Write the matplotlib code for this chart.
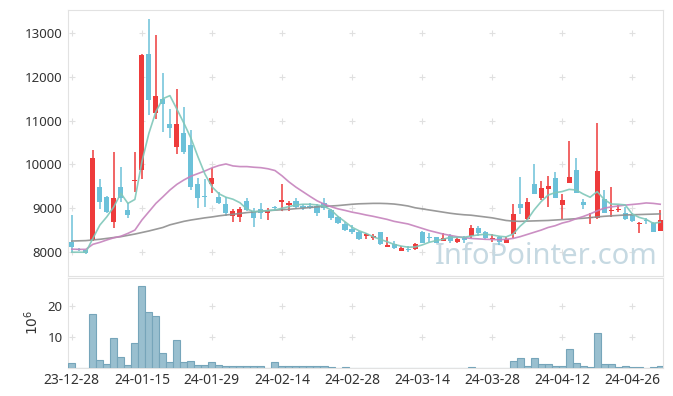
import matplotlib
matplotlib.use("Agg")
import matplotlib.pyplot as plt
import numpy as np

dates = ["23-12-28","24-01-02","24-01-03","24-01-04","24-01-05","24-01-08","24-01-09","24-01-10","24-01-11","24-01-12",
         "24-01-15","24-01-16","24-01-17","24-01-18","24-01-19","24-01-22","24-01-23","24-01-24","24-01-25","24-01-26",
         "24-01-29","24-01-30","24-01-31","24-02-01","24-02-02","24-02-05","24-02-06","24-02-07","24-02-08","24-02-13",
         "24-02-14","24-02-15","24-02-16","24-02-19","24-02-20","24-02-21","24-02-22","24-02-23","24-02-26","24-02-27",
         "24-02-28","24-02-29","24-03-04","24-03-05","24-03-06","24-03-07","24-03-08","24-03-11","24-03-12","24-03-13",
         "24-03-14","24-03-15","24-03-18","24-03-19","24-03-20","24-03-21","24-03-22","24-03-25","24-03-26","24-03-27",
         "24-03-28","24-03-29","24-04-01","24-04-02","24-04-03","24-04-04","24-04-05","24-04-08","24-04-09","24-04-11",
         "24-04-12","24-04-15","24-04-16","24-04-17","24-04-18","24-04-19","24-04-22","24-04-23","24-04-24","24-04-25",
         "24-04-26","24-04-29","24-04-30","24-05-02","24-05-03"]

open_ = [8235,8060,8050,8275,9477,9250,8690,9490,8960,9610,
         9870,12520,11180,11485,10920,10390,10710,10440,9550,9280,
         9545,9250,9090,8820,8805,9165,8935,8980,8885,9010,
         9150,9075,9165,9050,9055,9055,9110,8950,8790,8630,
         8520,8465,8375,8325,8465,8125,8190,8025,8065,8070,
         8465,8350,8335,8255,8365,8235,8300,8365,8540,8450,
         8300,8335,8210,8405,9090,8755,9550,9240,9440,9680,
         9075,9580,9870,9135,8780,8785,9200,8935,8950,8900,
         8845,8630,8715,8670,8485]
high = [8840,8100,8050,10330,9660,9270,10275,9935,9125,10275,
        12510,13320,12955,12080,11260,11720,11320,10785,9680,9660,
        9925,9380,9250,8975,9030,9225,9000,9125,9000,9050,
        9550,9160,9230,9100,9110,9085,9240,8990,8830,8680,
        8610,8490,8430,8420,8465,8340,8240,8130,8130,8200,
        8480,8440,8345,8440,8420,8340,8360,8615,8600,8480,
        8400,8370,8350,9095,9705,9225,10000,9630,9740,9835,
        9315,10540,10150,9210,8900,10940,9415,9490,9070,9020,
        8880,8690,8770,8680,8960]
low = [7990,8030,7960,8260,8975,8900,8540,9150,8770,9380,
       9660,11130,11030,10745,10595,10230,10235,9415,8995,9020,
       9355,9100,8820,8690,8690,8940,8565,8760,8740,8960,
       8945,8945,8990,8950,8990,8830,8960,8730,8640,8480,
       8400,8280,8300,8270,8160,8120,8060,8020,7990,8050,
       8200,8230,8200,8240,8200,8210,8210,8310,8360,8300,
       8230,8160,8200,8330,8870,8720,9320,9185,9020,9240,
       8745,9580,9340,8980,8650,8760,8880,8810,8920,8740,
       8690,8440,8630,8460,8470]
close = [8120,8050,7970,10140,9150,8920,9225,9240,8845,9640,
         12500,11470,11560,11385,10840,10920,10290,9490,9225,9255,
         9680,9125,8900,8935,8975,8960,8785,8885,8960,8995,
         9185,9125,9035,9000,9000,8900,9010,8770,8670,8510,
         8450,8300,8395,8375,8180,8140,8090,8085,8050,8175,
         8210,8320,8210,8325,8255,8305,8285,8555,8425,8325,
         8315,8235,8300,8870,9000,9135,9325,9455,9505,9240,
         9185,9710,9340,9075,8800,9850,8900,8955,8970,8755,
         8710,8670,8705,8465,8730]
volume = [1.4,0,0,17.5,2.6,1.2,9.7,3.5,0.9,8.0,
          26.7,18.2,16.8,4.8,1.8,9.0,1.8,2.2,0.9,0.9,
          1.8,0.9,0.4,0.4,0.4,0.4,0.4,0.4,0,1.8,
          0.4,0.4,0.4,0.4,0.4,0.4,0.4,0.3,0,0.3,
          0,0,0,0,0,0,0,0,0,0,
          0,0,0,0,0,0,0,0.3,0,0,
          0,0,0,2.0,3.0,0.65,3.0,1.3,1.3,0.65,
          0.65,5.9,1.6,0.65,0.3,11.4,1.3,1.3,0.3,0.65,
          0.3,0.3,0,0.3,0.65]
ma5 = [7995,7995,7995,8310,8615,8805,9035,9340,9110,9200,
       10060,10710,11205,11500,11570,11260,10940,10600,10175,9780,
       9490,9330,9250,9205,9125,8980,8920,8935,8945,8960,
       9000,9035,9075,9090,9090,9075,9045,8960,8810,8690,
       8565,8485,8425,8350,8290,8235,8175,8135,8110,8115,
       8160,8220,8260,8290,8335,8335,8335,8365,8390,8405,
       8390,8360,8345,8410,8590,8730,8960,9150,9300,9355,
       9380,9430,9415,9325,9250,9380,9200,9095,9090,9075,
       8870,8790,8745,8655,8680]
ma20 = [8065,8060,8060,8175,8220,8275,8325,8360,8425,8500,
        8730,8920,9110,9260,9415,9545,9645,9730,9790,9850,
        9920,9975,10010,9965,9950,9950,9935,9925,9900,9860,
        9740,9600,9480,9375,9270,9170,9095,9035,8985,8950,
        8910,8880,8845,8815,8780,8745,8700,8670,8640,8590,
        8540,8490,8450,8410,8380,8350,8330,8310,8300,8290,
        8285,8280,8290,8310,8350,8400,8450,8500,8560,8600,
        8660,8700,8760,8810,8870,8940,9000,9030,9050,9070,
        9085,9100,9120,9110,9090]
ma60 = [8250,8255,8260,8275,8290,8310,8330,8350,8380,8410,
        8445,8480,8520,8560,8620,8660,8700,8730,8755,8780,
        8800,8825,8845,8860,8880,8900,8915,8930,8945,8955,
        8965,8975,8990,9000,9015,9030,9040,9050,9060,9075,
        9090,9100,9105,9110,9110,9105,9095,9075,9050,9010,
        8985,8960,8935,8910,8885,8865,8850,8840,8820,8800,
        8780,8750,8720,8705,8700,8705,8710,8715,8720,8730,
        8740,8750,8760,8770,8785,8800,8815,8825,8835,8845,
        8850,8855,8860,8865,8870]
price_ticks = [8000, 9000, 10000, 11000, 12000, 13000]
vol_ticks = [10, 20]
label_every = 10

plt.rcParams['font.family'] = ['Noto Sans', 'DejaVu Sans']

UP = '#ee3b3b'
DOWN = '#6cc1d9'
x = np.arange(len(dates))
o = np.array(open_, float); c = np.array(close, float)
h = np.array(high, float); l = np.array(low, float)

fig = plt.figure(figsize=(6.73, 3.96), dpi=100)
W, H = 673, 396
def rect(x0, y0, x1, y1):
    return [x0 / W, 1 - y1 / H, (x1 - x0) / W, (y1 - y0) / H]
ax = fig.add_axes(rect(68, 10, 663, 276))
axv = fig.add_axes(rect(68, 278, 663, 367.5), sharex=ax)

up = c >= o
cols = np.where(up, UP, DOWN)
ax.vlines(x, l, h, colors=cols, linewidth=1.1, zorder=2)
body_bottom = np.minimum(o, c)
body_h = np.maximum(np.abs(c - o), 28)
ax.bar(x, body_h, bottom=body_bottom, width=0.72, color=cols, linewidth=0, zorder=3)

ax.plot(x, ma60, color='#8f8f8f', lw=1.2, alpha=0.9, zorder=4)
ax.plot(x, ma20, color='#c683bd', lw=1.2, alpha=0.9, zorder=4)
ax.plot(x, ma5, color='#7fc7b9', lw=1.2, alpha=0.9, zorder=4)

ax.text(0.803, 0.075, 'InfoPointer.com', fontsize=21, color='#c6d9e2', ha='center', va='center',
        transform=ax.transAxes, zorder=1, family='Noto Sans')

axv.bar(x, volume, width=1.0, color='#99bfcf', edgecolor='#76a5ba', linewidth=0.8, zorder=3)

ax.set_xlim(-0.55, len(dates) - 0.6)
ax.set_ylim(7452, 13525)
axv.set_ylim(0, 29.2)

tick_pos = list(range(0, len(dates), label_every))
axv.set_xticks(tick_pos)
axv.set_xticklabels([dates[i] for i in tick_pos])
ax.tick_params(axis='x', labelbottom=False, length=0)
ax.set_yticks(price_ticks)
ax.set_yticklabels([str(v) for v in price_ticks])
axv.set_yticks(vol_ticks)
for a in (ax, axv):
    a.tick_params(length=0, labelsize=9.5, colors='#333333', pad=4)
    for s in a.spines.values():
        s.set_color('#e2e2e2')
        s.set_linewidth(0.8)
    a.set_facecolor('white')
axv.tick_params(axis='x', labelsize=10, pad=4)

gx, gy = np.meshgrid(tick_pos, price_ticks)
ax.scatter(gx.ravel(), gy.ravel(), marker='+', s=18, color='#e0e0e0', linewidths=0.8, zorder=0.5)
gx2, gy2 = np.meshgrid(tick_pos, vol_ticks)
axv.scatter(gx2.ravel(), gy2.ravel(), marker='+', s=18, color='#e0e0e0', linewidths=0.8, zorder=0.5)

axv.set_ylabel(r'$10^6$', fontsize=10, color='#333333', labelpad=4)

fig.savefig('out.png', dpi=100)
